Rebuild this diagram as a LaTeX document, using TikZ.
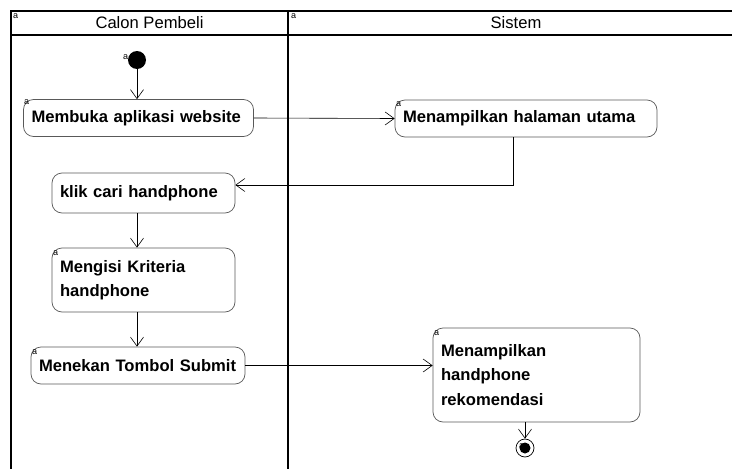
\documentclass[tikz,border=0pt]{standalone}
\usepackage{fontspec}
\setmainfont{Liberation Sans}
\usetikzlibrary{arrows.meta}
\begin{document}
\begin{tikzpicture}[x=1pt, y=-1pt,
                    act/.style={draw=black!65, rounded corners=10pt, line width=0.7pt,
                                inner xsep=8pt, inner ysep=0pt, align=left,
                                font=\bfseries\fontsize{16.6}{24.5}\selectfont},
                    arrow/.style={-{Straight Barb[length=9pt,width=13pt]}, line width=0.6pt},
                    lane/.style={line width=1.8pt},
                    tag/.style={font=\fontsize{9}{9}\selectfont, inner sep=0pt, anchor=north west}]
\fill[white] (0,0) rectangle (732,469);
\useasboundingbox (0,0) rectangle (732,469);
% lanes
\draw[lane] (11,469) -- (11,11) -- (732,11);
\draw[lane] (11,35) -- (732,35);
\draw[lane] (288,11) -- (288,469);
\node[font=\fontsize{16.6}{20}\selectfont] (h1) at (149.5,23) {Calon Pembeli};
\node[font=\fontsize{16.6}{20}\selectfont] (h2) at (516,23) {Sistem};
\node[tag] (th1) at (13,13) {a};
\node[tag] (th2) at (291,13) {a};
% nodes
\node[circle, fill=black, inner sep=0pt, minimum size=18pt] (init) at (137,60) {};
\node[act, text width=214pt, minimum height=37pt] (b1) at (138.5,118) {Membuka aplikasi website};
\node[act, text width=246pt, minimum height=37pt] (b2) at (526,118.5) {Menampilkan halaman utama};
\node[act, text width=167pt, minimum height=40pt] (b3) at (143.5,193) {klik cari handphone};
\node[act, text width=167pt, minimum height=64pt] (b4) at (143.5,280) {Mengisi Kriteria\\handphone};
\node[act, text width=198pt, minimum height=37pt] (b5) at (138,365.5) {Menekan Tombol Submit};
\node[act, text width=191pt, minimum height=94pt] (b6) at (536.5,375) {Menampilkan\\handphone\\rekomendasi};
\node[circle, draw, line width=0.7pt, inner sep=0pt, minimum size=18pt] (final) at (525,448) {};
\node[circle, fill=black, inner sep=0pt, minimum size=11pt] (fin) at (final) {};
\node[tag] (ta0) at (123,54) {a};
\node[tag] (ta1) at (24,99) {a};
\node[tag] (ta2) at (396,101) {a};
\node[tag] (ta4) at (53,250) {a};
\node[tag] (ta5) at (32,349) {a};
\node[tag] (ta6) at (434,330) {a};
\node[tag] (ta7) at (519,443) {a};
% flows
\draw[arrow] (init) -- (b1.north -| init);
\draw[arrow] (b1.east) -- (b2.west);
\draw[arrow] ([xshift=-13pt]b2.south) |- ([yshift=8pt]b3.east);
\draw[arrow] (b3.south -| init) -- (b4.north -| init);
\draw[arrow] (b4.south -| init) -- (b5.north -| init);
\draw[arrow] (b5.east) -- (b5.east -| b6.west);
\draw[arrow] (final |- b6.south) -- (final);
\end{tikzpicture}
\end{document}
